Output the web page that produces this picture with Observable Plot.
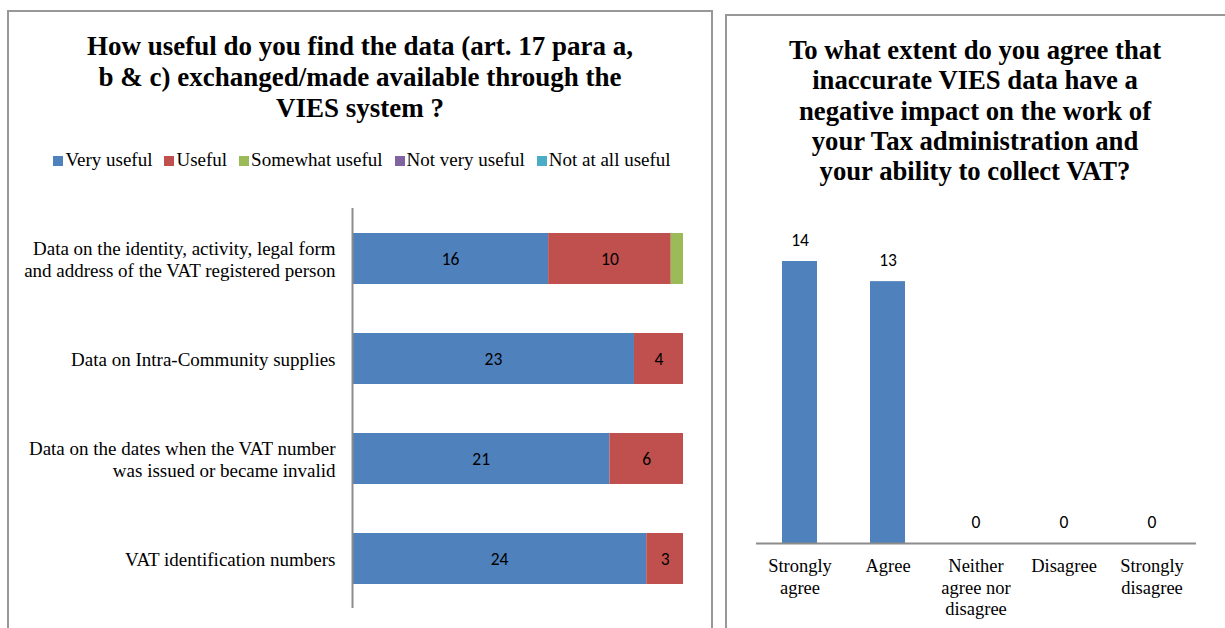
<!DOCTYPE html>
<html>
<head>
<meta charset="utf-8">
<script src="https://cdn.jsdelivr.net/npm/d3@7"></script>
<script src="https://cdn.jsdelivr.net/npm/@observablehq/plot@0.6"></script>
<style>
  html, body { margin: 0; padding: 0; background: #fff; }
  body { width: 1225px; height: 628px; overflow: hidden; position: relative; }
  .panel { position: absolute; border: 2px solid #989898; box-sizing: border-box; background: #fff; }
  .title { position: absolute; font-family: "Liberation Serif", "Times New Roman", serif; font-weight: bold; text-align: center; color: #000; }
  .legend { position: absolute; font-family: "Liberation Serif", "Times New Roman", serif; font-size: 19px; color: #000; white-space: nowrap; }
  .legend span.sw { display: inline-block; width: 10px; height: 10px; margin-right: 2px; vertical-align: 0px; }
  .legend span.item { margin-right: 12px; }
  .legend span.item:last-child { margin-right: 0; }
  .plot { position: absolute; }
</style>
</head>
<body>
<div class="panel" style="left:7px; top:10px; width:706px; height:700px;"></div>
<div class="panel" style="left:725px; top:14px; width:600px; height:700px;"></div>

<div class="title" id="title1" style="left:7px; top:31px; width:706px; font-size:27px; line-height:31px;">How useful do you find the data (art. 17 para a,<br>b &amp; c) exchanged/made available through the<br>VIES system ?</div>
<div class="legend" id="legend1" style="left:9px; top:149px; width:706px; text-align:center;"></div>
<div id="chart1" class="plot" style="left:0px; top:190px;"></div>

<div class="title" id="title2" style="left:725px; top:35px; width:500px; font-size:26.7px; line-height:30.3px;">To what extent do you agree that<br>inaccurate VIES data have a<br>negative impact on the work of<br>your Tax administration and<br>your ability to collect VAT?</div>
<div id="chart2" class="plot" style="left:725px; top:200px;"></div>

<script>
// ---------- Left chart data ----------
const usefulCategories = [
  "Data on the identity, activity, legal form\nand address of the VAT registered person",
  "Data on Intra-Community supplies",
  "Data on the dates when the VAT number\nwas issued or became invalid",
  "VAT identification numbers"
];
const usefulSeries = ["Very useful", "Useful", "Somewhat useful", "Not very useful", "Not at all useful"];
const usefulColors = ["#4F81BD", "#C0504D", "#9BBB59", "#8064A2", "#4BACC6"];
const veryUseful     = [16, 23, 21, 24];
const useful         = [10, 4, 6, 3];
const somewhatUseful = [1, 0, 0, 0];
const notVeryUseful  = [0, 0, 0, 0];
const notAtAllUseful = [0, 0, 0, 0];

// ---------- Right chart data ----------
const agreeCategories = ["Strongly\nagree", "Agree", "Neither\nagree nor\ndisagree", "Disagree", "Strongly\ndisagree"];
const agreeValues = [14, 13, 0, 0, 0];

// ---------- Build left table ----------
const seriesValues = [veryUseful, useful, somewhatUseful, notVeryUseful, notAtAllUseful];
const usefulTable = [];
usefulSeries.forEach((s, si) => {
  usefulCategories.forEach((c, ci) => {
    usefulTable.push({category: c, series: s, value: seriesValues[si][ci]});
  });
});

// Legend
const legend = document.getElementById("legend1");
legend.innerHTML = usefulSeries.map((s, i) =>
  `<span class="item"><span class="sw" style="background:${usefulColors[i]}"></span>${s}</span>`
).join("");

const serif = "'Liberation Serif', 'Times New Roman', serif";
const sans = "Carlito, Calibri, Lato, sans-serif";

const chart1 = Plot.plot({
  width: 712,
  height: 430,
  marginLeft: 352,
  marginRight: 29,
  marginTop: 18,
  marginBottom: 12,
  style: {fontFamily: serif, background: "transparent", overflow: "visible"},
  x: {domain: [0, 27], axis: null},
  y: {domain: usefulCategories, paddingInner: 0.49, paddingOuter: 0.245, label: null},
  color: {domain: usefulSeries, range: usefulColors},
  marks: [
    Plot.barX(usefulTable, Plot.stackX({
      x: "value", y: "category", fill: "series", order: usefulSeries
    })),
    Plot.text(usefulTable, Plot.stackX({
      x: "value", y: "category", z: "series", order: usefulSeries,
      text: d => d.value > 1 ? String(d.value) : "",
      fill: "#000", fontSize: 17.5, fontFamily: sans
    })),
    Plot.axisY({
      tickSize: 0, tickPadding: 17, fontSize: 19, lineHeight: 1.16,
      fontFamily: serif, fill: "#000", label: null, textAnchor: "end"
    }),
    Plot.ruleX([0], {stroke: "#8c8c8c", strokeWidth: 2})
  ]
});
document.getElementById("chart1").appendChild(chart1);

// ---------- Right chart ----------
const agreeTable = agreeCategories.map((c, i) => ({category: c, value: agreeValues[i]}));
const chart2 = Plot.plot({
  width: 500,
  height: 428,
  marginLeft: 31,
  marginRight: 29,
  marginTop: 61,
  marginBottom: 85,
  style: {fontFamily: serif, background: "transparent", overflow: "visible"},
  x: {domain: agreeCategories, paddingInner: 0.6, paddingOuter: 0.3, label: null},
  y: {domain: [0, 14], axis: null},
  marks: [
    Plot.barY(agreeTable, {x: "category", y: "value", fill: "#4F81BD"}),
    Plot.text(agreeTable, {x: "category", y: "value", text: d => String(d.value), dy: -21, fill: "#000", fontSize: 17.5, fontFamily: sans}),
    Plot.axisX({tickSize: 0, tickPadding: 14, fontSize: 18.5, lineHeight: 1.14, fontFamily: serif, fill: "#000", label: null}),
    Plot.ruleY([0], {stroke: "#8c8c8c", strokeWidth: 2})
  ]
});
document.getElementById("chart2").appendChild(chart2);
</script>
</body>
</html>
